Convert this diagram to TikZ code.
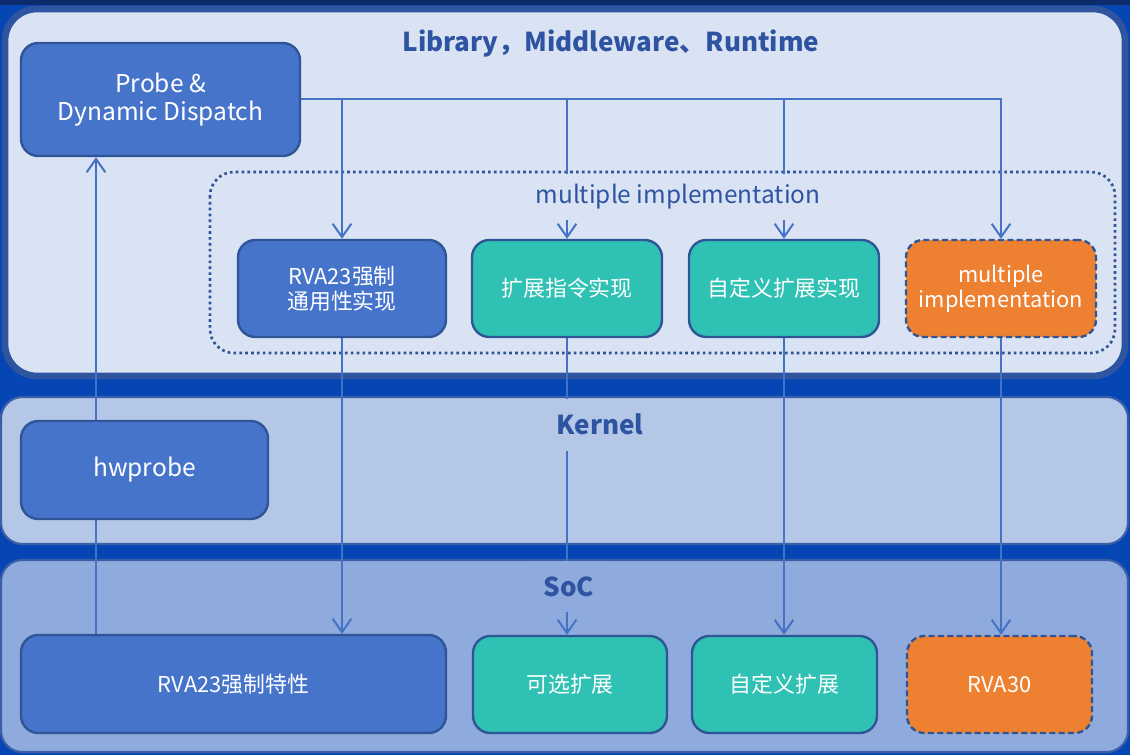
\documentclass[tikz,border=0pt]{standalone}
\usepackage{fontspec}
\setmainfont{Noto Sans CJK SC}
\usetikzlibrary{arrows.meta}
\definecolor{bgblue}{HTML}{0546B4}
\definecolor{navy}{HTML}{0B2B6B}
\definecolor{libfill}{HTML}{DAE3F3}
\definecolor{libedge}{HTML}{2F55A0}
\definecolor{kerfill}{HTML}{B4C7E7}
\definecolor{socfill}{HTML}{8FAADC}
\definecolor{bandedge}{HTML}{3A5FA8}
\definecolor{boxblue}{HTML}{4674CB}
\definecolor{boxteal}{HTML}{2FC2B4}
\definecolor{boxorange}{HTML}{ED8131}
\definecolor{boxedge}{HTML}{2F5597}
\definecolor{linec}{HTML}{4472C4}
\definecolor{titlec}{HTML}{2E54A1}
\tikzset{
  band/.style={draw=bandedge, line width=1.6pt, rounded corners=16pt},
  box/.style={rounded corners=13pt, draw=boxedge, line width=1.8pt, text=white,
    align=center, inner sep=0pt, font=\fontsize{16.4}{18.5}\selectfont},
  bigtext/.style={font=\fontsize{18.4}{21}\selectfont},
  bluebox/.style={box, fill=boxblue},
  tealbox/.style={box, fill=boxteal},
  orangebox/.style={box, fill=boxorange, dash pattern=on 4.5pt off 2.5pt},
  conn/.style={draw=linec, line width=1.5pt},
  arr/.style={conn, -{Straight Barb[length=10pt,width=14pt,line width=1.5pt]}},
  bandtitle/.style={text=titlec, font=\fontsize{19.5}{23}\bfseries\selectfont, inner sep=0pt},
  cover/.style={inner xsep=8pt, inner ysep=0pt},
}
\begin{document}
\begin{tikzpicture}[x=0.75pt,y=-0.75pt]
\useasboundingbox (0,0) rectangle (1130,755);
\fill[bgblue] (0,0) rectangle (1130,755);
\fill[navy] (0,0) rectangle (1130,5);
% bands
\draw[draw=libedge, fill=libfill, line width=5pt, rounded corners=24pt] (5,9) rectangle (1125,376);
\draw[band, fill=kerfill] (1,397) rectangle (1128,544);
\draw[band, fill=socfill] (1,560) rectangle (1128,752);
% dotted container
\draw[draw=boxedge, line width=2pt, dash pattern=on 2pt off 2.4pt, rounded corners=18pt] (210,172) rectangle (1115,353);
% boxes
\node[bluebox, bigtext, minimum width=279*0.75pt, minimum height=113*0.75pt] (probe) at (160.5,99.5) {Probe \&\\Dynamic Dispatch};
\node[bluebox, bigtext, minimum width=247*0.75pt, minimum height=98*0.75pt] (hwprobe) at (144.5,470) {hwprobe};
\node[bluebox, minimum width=208*0.75pt, minimum height=97*0.75pt] (rva) at (342,288.5) {RVA23强制\\通用性实现};
\node[tealbox, minimum width=190*0.75pt, minimum height=97*0.75pt] (ext) at (567,288.5) {扩展指令实现};
\node[tealbox, minimum width=190*0.75pt, minimum height=97*0.75pt] (cust) at (784,288.5) {自定义扩展实现};
\node[orangebox, minimum width=190*0.75pt, minimum height=97*0.75pt] (multi) at (1001,288.5) {multiple\\implementation};
\node[bluebox, minimum width=425*0.75pt, minimum height=98*0.75pt] (rvafeat) at (233.5,684) {RVA23强制特性};
\node[tealbox, minimum width=194*0.75pt, minimum height=97*0.75pt] (opt) at (570,684.5) {可选扩展};
\node[tealbox, minimum width=185*0.75pt, minimum height=97*0.75pt] (custext) at (784.5,684.5) {自定义扩展};
\node[orangebox, minimum width=185*0.75pt, minimum height=97*0.75pt] (rva30) at (999.5,684.5) {RVA30};
% connectors
\coordinate (upx) at (96,0);
\draw[conn] (rvafeat.north -| upx) -- (hwprobe.south -| upx);
\draw[arr] (hwprobe.north -| upx) -- (probe.south -| upx);
\draw[arr] (probe.east) -| (multi.north);
\draw[arr] (rva.north |- probe.east) -- (rva.north);
\draw[arr] (ext.north |- probe.east) -- (ext.north);
\draw[arr] (cust.north |- probe.east) -- (cust.north);
\draw[arr] (rva.south) -- (rva.south |- rvafeat.north);
\draw[arr] (ext.south) -- (ext.south |- opt.north);
\draw[arr] (cust.south) -- (cust.south |- custext.north);
\draw[arr] (multi.south) -- (multi.south |- rva30.north);
% labels (their fill hides the connectors passing behind them)
\node[bandtitle] (libtitle) at (611,44) {Library，Middleware、Runtime};
\node[cover, fill=libfill, text=titlec, font=\fontsize{18.3}{21}\selectfont, minimum height=46*0.75pt] (mlabel) at (678,197) {multiple implementation};
\node[bandtitle, cover, fill=kerfill, minimum height=52*0.75pt] (kertitle) at (600,424.5) {Kernel};
\node[bandtitle, cover, fill=socfill, minimum height=51*0.75pt] (soctitle) at (569,586.5) {SoC};
\end{tikzpicture}
\end{document}
